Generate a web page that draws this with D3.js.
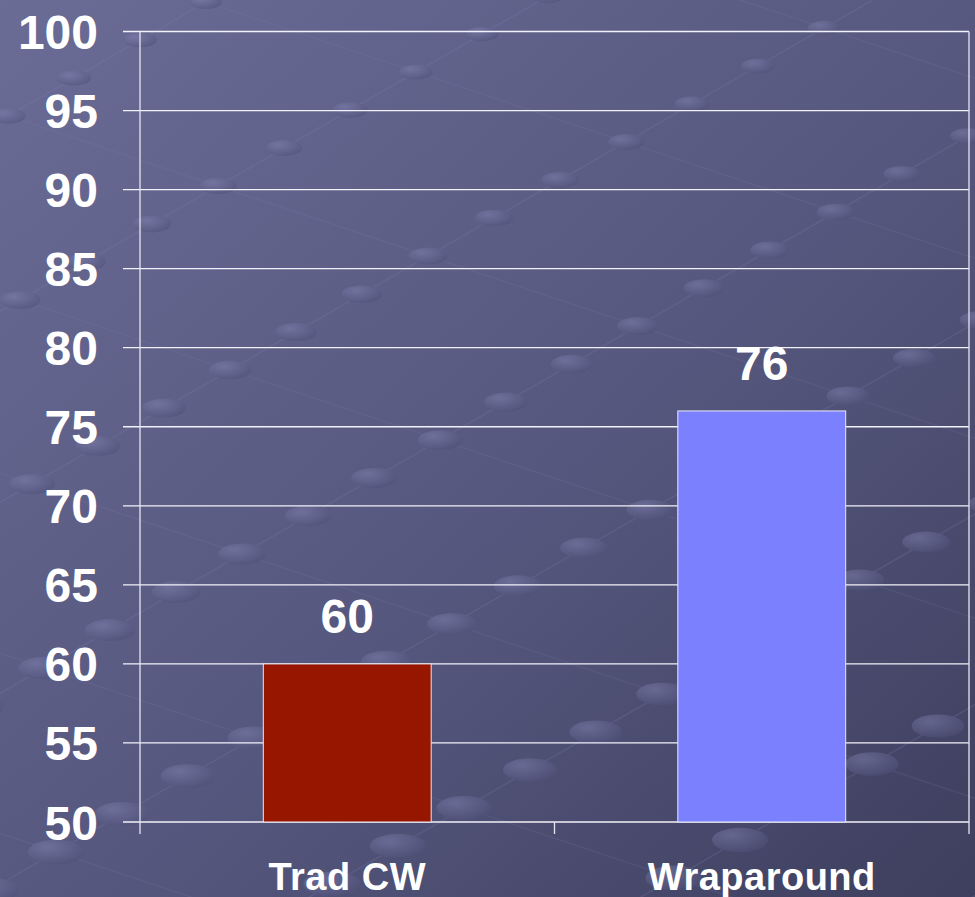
<!DOCTYPE html>
<html>
<head>
<meta charset="utf-8">
<script src="https://cdn.jsdelivr.net/npm/d3@7"></script>
<style>
  html, body { margin: 0; padding: 0; background: #52547a; }
  svg { display: block; }
</style>
</head>
<body>
<div id="chart"></div>
<script>
// data
var categories = ["Trad CW", "Wraparound"];
var values = [60, 76];
var barColors = ["#961600", "#7b80ff"];
var yTicks = [50, 55, 60, 65, 70, 75, 80, 85, 90, 95, 100];

var W = 975, H = 897;
var plot = { left: 140, right: 969, top: 31.5, bottom: 822 };

var svg = d3.select("#chart")
    .append("svg")
    .attr("width", W)
    .attr("height", H);

var defs = svg.append("defs");
var bg = defs.append("linearGradient")
    .attr("id", "bg")
    .attr("x1", "0").attr("y1", "0")
    .attr("x2", "1").attr("y2", "1");
bg.append("stop").attr("offset", "0%").attr("stop-color", "#6a6c96");
bg.append("stop").attr("offset", "55%").attr("stop-color", "#55577e");
bg.append("stop").attr("offset", "100%").attr("stop-color", "#3e3f5e");

var dot = defs.append("radialGradient")
    .attr("id", "dot")
    .attr("cx", "35%").attr("cy", "30%").attr("r", "75%");
dot.append("stop").attr("offset", "0%").attr("stop-color", "#8486b4");
dot.append("stop").attr("offset", "100%").attr("stop-color", "#4e5078");

svg.append("rect")
    .attr("width", W)
    .attr("height", H)
    .attr("fill", "url(#bg)");

// background decoration: faint lattice of lines and discs
var deco = svg.append("g").attr("opacity", 0.5);
var u = [66, -38], v = [210, 70];
var o = [-100, 560];
var pts = [];
for (var i = -16; i <= 20; i++) {
    for (var j = -6; j <= 8; j++) {
        var px = o[0] + i * u[0] + j * v[0];
        var py = o[1] + i * u[1] + j * v[1];
        if (px > -60 && px < W + 60 && py > -30 && py < H + 30) pts.push([px, py]);
    }
}
for (var j2 = -6; j2 <= 8; j2++) {
    deco.append("line")
        .attr("x1", o[0] + (-16) * u[0] + j2 * v[0])
        .attr("y1", o[1] + (-16) * u[1] + j2 * v[1])
        .attr("x2", o[0] + 20 * u[0] + j2 * v[0])
        .attr("y2", o[1] + 20 * u[1] + j2 * v[1])
        .attr("stroke", "#7f82ad")
        .attr("stroke-width", 1.5)
        .attr("opacity", 0.45);
}
for (var i2 = -16; i2 <= 20; i2 += 3) {
    deco.append("line")
        .attr("x1", o[0] + i2 * u[0] + (-6) * v[0])
        .attr("y1", o[1] + i2 * u[1] + (-6) * v[1])
        .attr("x2", o[0] + i2 * u[0] + 8 * v[0])
        .attr("y2", o[1] + i2 * u[1] + 8 * v[1])
        .attr("stroke", "#7f82ad")
        .attr("stroke-width", 1.5)
        .attr("opacity", 0.3);
}
deco.selectAll("ellipse")
    .data(pts)
    .enter()
    .append("ellipse")
    .attr("cx", function (d) { return d[0]; })
    .attr("cy", function (d) { return d[1]; })
    .attr("rx", function (d) { return 16 + d[1] / 70; })
    .attr("ry", function (d) { return 7 + d[1] / 160; })
    .attr("fill", "url(#dot)");

// scales
var y = d3.scaleLinear()
    .domain([50, 100])
    .range([plot.bottom, plot.top]);

var x = d3.scaleBand()
    .domain(categories)
    .range([plot.left, plot.right])
    .paddingInner(0.595)
    .paddingOuter(0.2975);

// gridlines
svg.append("g")
    .selectAll("line")
    .data(yTicks)
    .enter()
    .append("line")
    .attr("x1", 123)
    .attr("x2", plot.right)
    .attr("y1", function (d) { return y(d); })
    .attr("y2", function (d) { return y(d); })
    .attr("stroke", "#f2f2fa")
    .attr("stroke-width", 1.3);

// left and right frame lines
svg.append("g")
    .selectAll("line")
    .data([plot.left, plot.right])
    .enter()
    .append("line")
    .attr("x1", function (d) { return d; })
    .attr("x2", function (d) { return d; })
    .attr("y1", plot.top)
    .attr("y2", plot.bottom + 12)
    .attr("stroke", "#e6e6f0")
    .attr("stroke-width", 1.3);

// category boundary tick
svg.append("line")
    .attr("x1", plot.left + x.step())
    .attr("x2", plot.left + x.step())
    .attr("y1", plot.bottom)
    .attr("y2", plot.bottom + 12)
    .attr("stroke", "#e6e6f0")
    .attr("stroke-width", 1.3);

// y axis labels
var yAxis = svg.append("g")
    .attr("transform", "translate(123,0)")
    .call(d3.axisLeft(y).tickValues(yTicks).tickSize(0).tickPadding(25));
yAxis.select(".domain").remove();
yAxis.selectAll("text")
    .attr("dy", null)
    .attr("y", 17)
    .style("font-family", "'Liberation Sans', Arial, sans-serif")
    .style("font-size", "48px")
    .style("font-weight", "bold")
    .attr("fill", "#ffffff");

// bars
svg.append("g")
    .selectAll("rect")
    .data(values)
    .enter()
    .append("rect")
    .attr("x", function (d, i) { return x(categories[i]); })
    .attr("width", x.bandwidth())
    .attr("y", function (d) { return y(d); })
    .attr("height", function (d) { return y(50) - y(d); })
    .attr("fill", function (d, i) { return barColors[i]; })
    .attr("stroke", "#e8e8f4")
    .attr("stroke-width", 1);

// value labels
svg.append("g")
    .selectAll("text")
    .data(values)
    .enter()
    .append("text")
    .attr("x", function (d, i) { return x(categories[i]) + x.bandwidth() / 2; })
    .attr("y", function (d) { return y(d) - 31; })
    .attr("text-anchor", "middle")
    .style("font-family", "'Liberation Sans', Arial, sans-serif")
    .style("font-size", "48px")
    .style("font-weight", "bold")
    .attr("fill", "#ffffff")
    .text(function (d) { return d; });

// x axis labels
var xAxis = svg.append("g")
    .attr("transform", "translate(0," + plot.bottom + ")")
    .call(d3.axisBottom(x).tickSize(0));
xAxis.select(".domain").remove();
xAxis.selectAll("text")
    .attr("dy", null)
    .attr("y", 68)
    .style("font-family", "'Liberation Sans', Arial, sans-serif")
    .style("font-size", "38px")
    .style("font-weight", "bold")
    .style("letter-spacing", "0.5px")
    .attr("fill", "#ffffff");
</script>
</body>
</html>
